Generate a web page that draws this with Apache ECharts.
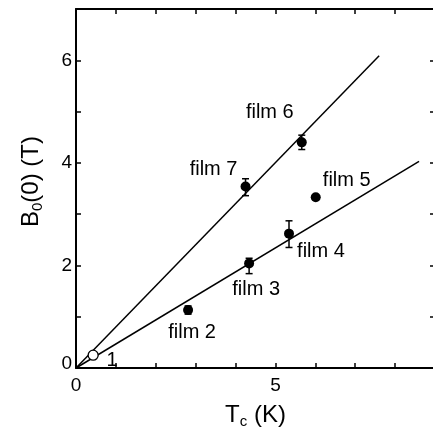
<!DOCTYPE html>
<html>
<head>
<meta charset="utf-8">
<script src="https://cdn.jsdelivr.net/npm/echarts@6/dist/echarts.min.js"></script>
<style>
  html, body { margin: 0; padding: 0; background: #fff; }
  #chart { width: 433px; height: 431px; }
</style>
</head>
<body>
<div id="chart"></div>
<script>
// film data (Tc in K, B0(0) in T)
const films = ['1', 'film 2', 'film 3', 'film 4', 'film 5', 'film 6', 'film 7'];
const tc = [0.43, 2.81, 4.34, 5.34, 6.01, 5.66, 4.25];
const b0 = [0.25, 1.13, 2.04, 2.62, 3.33, 4.40, 3.54];
const errLow = [null, 1.05, 1.84, 2.35, null, 4.26, 3.36];
const errHigh = [null, 1.21, 2.14, 2.87, null, 4.54, 3.69];

// straight fits through origin
const fitUpperX = [0, 7.6];
const fitUpperY = [0, 6.09];
const fitLowerX = [0, 8.6];
const fitLowerY = [0, 4.03];

// where each label sits relative to its point
const labelOffsets = [[19, 5], [4, 22], [7, 26], [32, 18], [31, -17], [-32, -30], [-32, -17]];

const font = 'Liberation Sans, Arial, Helvetica, sans-serif';

let pts = tc.map((x, i) => ({
    value: [x, b0[i]],
    label: {
        show: true,
        position: 'inside',
        offset: labelOffsets[i],
        formatter: films[i],
        color: '#000',
        fontSize: 20,
        fontFamily: font
    },
    itemStyle: i === 0
        ? {color: '#fff', borderColor: '#000', borderWidth: 1.3, opacity: 1}
        : {color: '#000', opacity: 1}
}));

let bars = [];
tc.forEach((x, i) => {
    if (errLow[i] != null) bars.push([x, errLow[i], errHigh[i]]);
});

const myChart = echarts.init(document.getElementById('chart'));

const tickStyle = {show: true, inside: true, length: 5, lineStyle: {color: '#000', width: 1.5}};
const axisLine = {show: true, onZero: false, lineStyle: {color: '#000', width: 2}};

myChart.setOption({
    backgroundColor: '#fff',
    animation: false,
    // plot runs past the right edge of the picture, as in the original
    grid: {left: 76, top: 9, right: -2, bottom: 63, outerBoundsMode: 'none'},
    xAxis: [{
        type: 'value', min: 0, max: 9, interval: 1,
        axisLine: axisLine,
        axisTick: tickStyle,
        splitLine: {show: false},
        axisLabel: {
            color: '#000', fontSize: 19, fontFamily: font, margin: 8,
            formatter: v => (v % 5 === 0 ? String(v) : '')
        },
        name: '{a|T}{s|c}{a| (K)}',
        nameLocation: 'middle',
        nameGap: 34,
        nameTextStyle: {
            rich: {
                a: {fontSize: 24, fontFamily: font, color: '#000'},
                s: {fontSize: 15, fontFamily: font, color: '#000', verticalAlign: 'bottom', padding: [12, 0, 0, 0]}
            }
        }
    }, {
        type: 'value', position: 'top', min: 0, max: 9, interval: 1,
        axisLine: axisLine, axisTick: tickStyle,
        axisLabel: {show: false}, splitLine: {show: false}
    }],
    yAxis: [{
        type: 'value', min: 0, max: 7, interval: 1,
        axisLine: axisLine,
        axisTick: tickStyle,
        splitLine: {show: false},
        axisLabel: {
            color: '#000', fontSize: 19, fontFamily: font, margin: 4,
            formatter: v => (v === 0 ? '{z|0}' : (v % 2 === 0 ? String(v) : '')),
            rich: {z: {fontSize: 19, fontFamily: font, color: '#000', padding: [0, 0, 8, 0]}}
        },
        name: '{a|B}{s|0}{a|(0) (T)}',
        nameLocation: 'middle',
        nameGap: 31,
        nameTextStyle: {
            padding: [0, 0, 0, 14],
            rich: {
                a: {fontSize: 24, fontFamily: font, color: '#000'},
                s: {fontSize: 15, fontFamily: font, color: '#000', verticalAlign: 'bottom', padding: [12, 0, 0, 0]}
            }
        }
    }, {
        type: 'value', position: 'right', min: 0, max: 7, interval: 1,
        axisLine: axisLine, axisTick: tickStyle,
        axisLabel: {show: false}, splitLine: {show: false}
    }],
    series: [{
        type: 'line',
        data: fitUpperX.map((x, i) => [x, fitUpperY[i]]),
        symbol: 'none',
        lineStyle: {color: '#000', width: 1.5},
        z: 1
    }, {
        type: 'line',
        data: fitLowerX.map((x, i) => [x, fitLowerY[i]]),
        symbol: 'none',
        lineStyle: {color: '#000', width: 1.5},
        z: 1
    }, {
        type: 'custom',
        data: bars,
        z: 2,
        renderItem: function (params, api) {
            let lo = api.coord([api.value(0), api.value(1)]);
            let hi = api.coord([api.value(0), api.value(2)]);
            let cap = 3.5;
            let style = {stroke: '#000', lineWidth: 1.5};
            return {
                type: 'group',
                children: [
                    {type: 'line', shape: {x1: lo[0], y1: lo[1], x2: hi[0], y2: hi[1]}, style: style},
                    {type: 'line', shape: {x1: lo[0] - cap, y1: lo[1], x2: lo[0] + cap, y2: lo[1]}, style: style},
                    {type: 'line', shape: {x1: hi[0] - cap, y1: hi[1], x2: hi[0] + cap, y2: hi[1]}, style: style}
                ]
            };
        }
    }, {
        type: 'scatter',
        data: pts,
        symbol: 'circle',
        symbolSize: 10,
        z: 3
    }]
});
</script>
</body>
</html>
